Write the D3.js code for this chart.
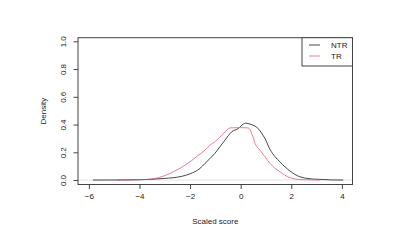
<!DOCTYPE html>
<html>
<head>
<meta charset="utf-8">
<script src="https://cdn.jsdelivr.net/npm/d3@7"></script>
<style>
  body { margin: 0; background: #fff; }
  text { font-family: "Liberation Sans", Arial, Helvetica, sans-serif; fill: #222; }
</style>
</head>
<body>
<svg id="chart" width="398" height="250"></svg>
<script>
// density curves
const ntrScore = [-5.84, -4.5, -3.58, -3.0, -2.4, -2.0, -1.61, -1.41, -1.21, -1.02, -0.82, -0.62, -0.36, -0.09, 0.1, 0.2, 0.37, 0.55, 0.7, 0.8, 0.96, 1.16, 1.35, 1.55, 1.75, 1.95, 2.15, 2.34, 2.7, 3.13, 3.6, 4.05]
const ntrDensity = [0, 0.001, 0.005, 0.012, 0.024, 0.045, 0.084, 0.12, 0.156, 0.192, 0.24, 0.288, 0.347, 0.372, 0.403, 0.41, 0.403, 0.39, 0.37, 0.345, 0.30, 0.22, 0.17, 0.132, 0.095, 0.065, 0.04, 0.024, 0.01, 0.005, 0.001, 0]

const trScore = [-4.89, -4.2, -3.58, -3.2, -2.79, -2.4, -2.0, -1.7, -1.41, -1.21, -1.02, -0.82, -0.62, -0.42, 0.0, 0.29, 0.45, 0.57, 0.76, 0.96, 1.16, 1.35, 1.55, 1.75, 1.95, 2.34, 2.8, 3.13]
const trDensity = [0, 0.002, 0.006, 0.02, 0.048, 0.085, 0.132, 0.175, 0.216, 0.252, 0.276, 0.31, 0.347, 0.376, 0.378, 0.376, 0.33, 0.264, 0.216, 0.168, 0.12, 0.085, 0.06, 0.035, 0.017, 0.004, 0.001, 0]

const xTicks = [-6, -4, -2, 0, 2, 4]
const yTicks = [0, 0.2, 0.4, 0.6, 0.8, 1.0]
const seriesNames = ["NTR", "TR"]
const seriesColors = ["#333333", "#DF536B"]

const svg = d3.select("#chart")
const plotLeft = 78, plotRight = 352.5, plotTop = 37.7, plotBottom = 184.5

const x = d3.scaleLinear().domain([-6.43, 4.42]).range([plotLeft, plotRight])
const y = d3.scaleLinear().domain([-0.032, 1.026]).range([plotBottom, plotTop])

// reference line at zero
svg.append("line")
   .attr("x1", plotLeft).attr("x2", plotRight)
   .attr("y1", y(0)).attr("y2", y(0))
   .attr("stroke", "#e4e4e4").attr("stroke-width", 1)

const line = d3.line()
   .x(d => x(d[0]))
   .y(d => y(d[1]))
   .curve(d3.curveMonotoneX)

const series = [
   d3.zip(ntrScore, ntrDensity),
   d3.zip(trScore, trDensity)
]

series.forEach((s, i) => {
   svg.append("path")
      .datum(s)
      .attr("d", line)
      .attr("fill", "none")
      .attr("stroke", seriesColors[i])
      .attr("stroke-width", 1)
      .attr("stroke-opacity", i == 1 ? 0.75 : 0.9)
})

// axes
const xAxis = d3.axisBottom(x).tickValues(xTicks).tickSize(4.5).tickPadding(4).tickFormat(d3.format("d"))
const gx = svg.append("g").attr("transform", `translate(0,${plotBottom})`).call(xAxis)
gx.select(".domain").remove()
gx.selectAll("line").attr("stroke", "#444")
gx.selectAll("text").attr("font-size", 8).attr("font-family", null)

const yAxis = d3.axisLeft(y).tickValues(yTicks).tickSize(4.5).tickFormat(d3.format(".1f"))
const gy = svg.append("g").attr("transform", `translate(${plotLeft},0)`).call(yAxis)
gy.select(".domain").remove()
gy.selectAll("line").attr("stroke", "#444")
gy.selectAll("text")
   .attr("font-size", 8).attr("font-family", null)
   .attr("x", 0).attr("y", 0).attr("dy", "0.35em")
   .attr("text-anchor", "middle")
   .attr("transform", "translate(-15,0) rotate(-90)")

// plot box
svg.append("rect")
   .attr("x", plotLeft).attr("y", plotTop)
   .attr("width", plotRight - plotLeft).attr("height", plotBottom - plotTop)
   .attr("fill", "none").attr("stroke", "#444").attr("stroke-width", 1)

svg.append("text")
   .attr("x", (plotLeft + plotRight) / 2).attr("y", 223.5)
   .attr("text-anchor", "middle").attr("font-size", 8)
   .text("Scaled score")

svg.append("text")
   .attr("transform", `translate(46,${(plotTop + plotBottom) / 2}) rotate(-90)`)
   .attr("text-anchor", "middle").attr("font-size", 8)
   .text("Density")

// legend
const legend = svg.append("g")
legend.append("rect")
   .attr("x", 302).attr("y", plotTop)
   .attr("width", plotRight - 302).attr("height", 66 - plotTop)
   .attr("fill", "#fff").attr("stroke", "#444").attr("stroke-width", 1)

seriesNames.forEach((name, i) => {
   const ly = 45 + i * 11
   legend.append("line")
      .attr("x1", 309).attr("x2", 320)
      .attr("y1", ly).attr("y2", ly)
      .attr("stroke", seriesColors[i])
      .attr("stroke-opacity", i == 1 ? 0.75 : 0.9)
   legend.append("text")
      .attr("x", 331).attr("y", ly).attr("dy", "0.35em")
      .attr("font-size", 8)
      .text(name)
})
</script>
</body>
</html>
